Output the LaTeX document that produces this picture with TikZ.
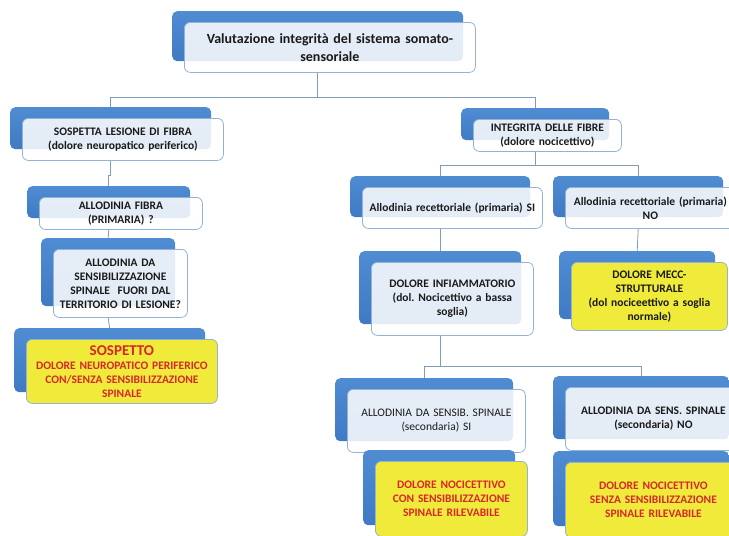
\documentclass[tikz,border=0pt]{standalone}
\usepackage{fontspec}
\setmainfont{Carlito}
\definecolor{backtop}{HTML}{4F8CD2}
\definecolor{backbot}{HTML}{3F7AC4}
\definecolor{frameblue}{HTML}{93B3D4}
\definecolor{linkgrey}{HTML}{7F9DB8}
\definecolor{noteyellow}{HTML}{F0EB3A}
\definecolor{notered}{HTML}{D8262C}
\definecolor{inktext}{HTML}{1A1A1A}

\tikzset{
  backbox/.style={draw=none, rounded corners=5pt, top color=backtop,
    bottom color=backbot, anchor=north west, inner sep=0pt},
  frontbox/.style={draw=frameblue, line width=0.8pt, rounded corners=6pt,
    fill=white, fill opacity=0.86, text opacity=1, anchor=north west,
    align=center, inner sep=3pt, text=inktext,
    font=\bfseries\fontsize{11.5}{14}\selectfont},
  plainbox/.style={frontbox, font=\fontsize{11.5}{14}\selectfont},
  titlebox/.style={frontbox, font=\bfseries\fontsize{14}{18.5}\selectfont},
  notebox/.style={frontbox, fill=noteyellow, fill opacity=1, text=notered},
  darknote/.style={notebox, text=inktext},
  link/.style={draw=linkgrey, line width=0.8pt},
}

% #1 name, #2 left, #3 top, #4 width, #5 height, #6 style, #7 text
\newcommand\orgbox[7]{%
  \pgfmathsetmacro\orgtw{#4-6}%
  \node[backbox, minimum width=#4pt, minimum height=#5pt] (#1-back)
    at ({#2-12},{#3-11}) {};
  \node[#6, minimum width=#4pt, minimum height=#5pt, text width=\orgtw pt]
    (#1) at (#2,#3) {#7};
}

\begin{document}
\begin{tikzpicture}[x=1pt,y=-1pt]
\useasboundingbox (0,0) rectangle (729,536);
\clip (0,0) rectangle (729,536);

% levels of the tree
\orgbox{top}{184}{22}{291}{50}{titlebox}
  {Valutazione integrità del sistema somato-\\sensoriale}

\orgbox{lesione}{22}{118}{201}{42}{frontbox}
  {SOSPETTA LESIONE DI FIBRA\\(dolore neuropatico periferico)}
\orgbox{fibra}{39}{197}{163}{32}{frontbox}
  {ALLODINIA FIBRA\\(PRIMARIA) ?}
\orgbox{fuori}{53}{249}{134}{68}{frontbox}
  {ALLODINIA DA\\SENSIBILIZZAZIONE\\SPINALE\ \ FUORI DAL\\TERRITORIO DI LESIONE?}
\orgbox{sospetto}{26}{339}{191}{64}{notebox}
  {{\fontsize{15}{16}\selectfont SOSPETTO}\\DOLORE NEUROPATICO PERIFERICO\\CON/SENZA SENSIBILIZZAZIONE\\SPINALE}

\orgbox{integrita}{473}{119}{148}{32}{frontbox}
  {INTEGRITA DELLE FIBRE\\(dolore nocicettivo)}
\orgbox{recsi}{362}{187}{180}{41}{frontbox}
  {Allodinia recettoriale (primaria) SI}
\orgbox{recno}{565}{187}{170}{41}{frontbox}
  {Allodinia recettoriale (primaria)\\NO}
\orgbox{infiamm}{371}{262}{162}{73}{frontbox}
  {DOLORE INFIAMMATORIO\\(dol.\ Nocicettivo a bassa\\soglia)}
\orgbox{mecc}{571}{262}{156}{68}{darknote}
  {DOLORE MECC-\\STRUTTURALE\\(dol nociceettivo a soglia\\normale)}
\orgbox{senssi}{347}{389}{178}{63}{plainbox}
  {ALLODINIA DA SENSIB. SPINALE\\(secondaria) SI}
\orgbox{sensno}{565}{387}{176}{63}{frontbox}
  {ALLODINIA DA SENS. SPINALE\\(secondaria) NO}
\orgbox{consens}{375}{461}{152}{75}{notebox}
  {DOLORE NOCICETTIVO\\CON SENSIBILIZZAZIONE\\SPINALE RILEVABILE}
\orgbox{senzasens}{565}{462}{176}{75}{notebox}
  {DOLORE NOCICETTIVO\\SENZA SENSIBILIZZAZIONE\\SPINALE RILEVABILE}

% connector buses
\coordinate (bus-top) at (0,97);
\coordinate (bus-lesione) at (0,175);
\coordinate (bus-integrita) at (0,165);
\coordinate (bus-infiamm) at (0,366);

\draw[link] (top-back |- top.south) -- (top-back |- bus-top);
\draw[link] (lesione-back |- bus-top) -- (integrita-back |- bus-top);
\draw[link] (lesione-back |- bus-top) -- (lesione-back.north);
\draw[link] (integrita-back |- bus-top) -- (integrita-back.north);

\draw[link] (lesione-back |- lesione.south) -- (lesione-back |- bus-lesione)
  -| (fibra-back.north);
\draw[link] (fibra-back |- fibra.south) -- (fuori-back.north);
\draw[link] (fuori-back |- fuori.south) -- (sospetto-back.north);

\draw[link] (integrita-back |- integrita.south) -- (integrita-back |- bus-integrita);
\draw[link] (recsi-back |- bus-integrita) -- (recno-back |- bus-integrita);
\draw[link] (recsi-back |- bus-integrita) -- (recsi-back.north);
\draw[link] (recno-back |- bus-integrita) -- (recno-back.north);

\draw[link] (recsi-back |- recsi.south) -- (infiamm-back.north);
\draw[link] (recno-back |- recno.south) -- (mecc-back.north);

\draw[link] (infiamm-back |- infiamm.south) -- (infiamm-back |- bus-infiamm);
\draw[link] (senssi-back |- bus-infiamm) -- (sensno-back |- bus-infiamm);
\draw[link] (senssi-back |- bus-infiamm) -- (senssi-back.north);
\draw[link] (sensno-back |- bus-infiamm) -- (sensno-back.north);
\end{tikzpicture}
\end{document}
